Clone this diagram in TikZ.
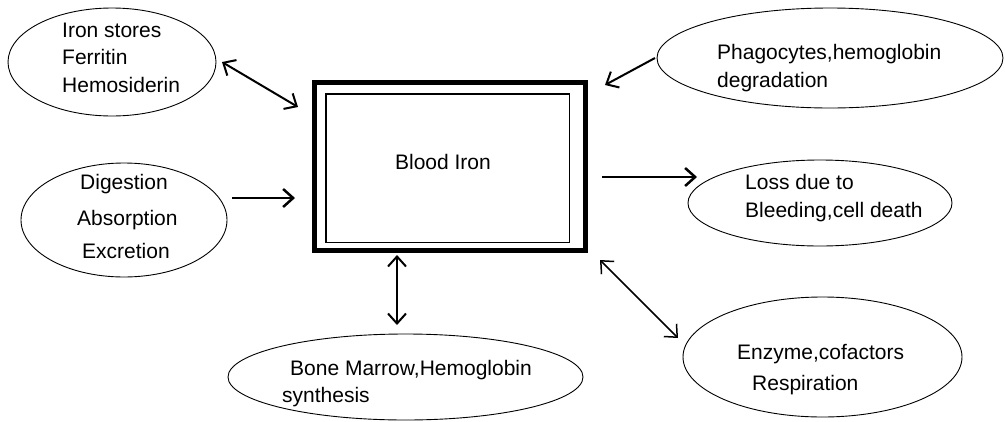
\documentclass[tikz,border=0pt]{standalone}
\usepackage{fontspec}
\setmainfont{Liberation Sans}
\usetikzlibrary{arrows.meta,shapes.geometric}
\begin{document}
\begin{tikzpicture}[x=1pt,y=-1pt,
  ell/.style={draw, ellipse, line width=0.9pt, inner sep=0pt},
  txt/.style={font=\fontsize{21}{25}\selectfont, inner sep=0pt, text height=15pt, text depth=0pt, anchor=west},
  barb/.style={Straight Barb[length=10pt,width=18pt]},
  conn/.style={line width=#1, -{Straight Barb[length=10pt,width=18pt]}},
  dconn/.style={line width=#1, {Straight Barb[length=10pt,width=18pt]}-{Straight Barb[length=10pt,width=18pt]}}
]
\useasboundingbox (0,0) rectangle (1005,421);
% central box
\node[draw, line width=5pt, minimum width=271pt, minimum height=168pt, inner sep=0pt] (outer) at (450,166.5) {};
\node[draw, line width=1.5pt, minimum width=243.5pt, minimum height=148.5pt, inner sep=0pt] (inner) at (447.5,168) {};
\node[txt, anchor=center] (blood) at (443,162) {Blood Iron};

% ellipses
\node[ell, minimum width=208pt, minimum height=108pt] (iron) at (112,62) {};
\node[ell, minimum width=206pt, minimum height=114pt] (dig) at (124,220) {};
\node[ell, minimum width=346pt, minimum height=100pt] (phago) at (830,58) {};
\node[ell, minimum width=264pt, minimum height=86pt] (loss) at (820,203) {};
\node[ell, minimum width=279pt, minimum height=120pt] (enz) at (822.5,357) {};
\node[ell, minimum width=355pt, minimum height=86pt] (bone) at (405.5,377) {};

% texts
\node[txt] (t1a) at (62,30) {Iron stores};
\node[txt] (t1b) at (62,57) {Ferritin};
\node[txt] (t1c) at (62,85) {Hemosiderin};
\node[txt] (t2a) at (80,182) {Digestion};
\node[txt] (t2b) at (77,218) {Absorption};
\node[txt] (t2c) at (82,251) {Excretion};
\node[txt] (t3a) at (717,52) {Phagocytes,hemoglobin};
\node[txt] (t3b) at (717,80) {degradation};
\node[txt] (t4a) at (745,182) {Loss due to};
\node[txt] (t4b) at (745,210) {Bleeding,cell death};
\node[txt] (t5a) at (737,352) {Enzyme,cofactors};
\node[txt] (t5b) at (752,383) {Respiration};
\node[txt] (t6a) at (290,368) {Bone Marrow,Hemoglobin};
\node[txt] (t6b) at (282,395) {synthesis};

% connector end points
\coordinate (a1s) at (222,62);  \coordinate (a1e) at (298,107);
\coordinate (a2s) at (232,198); \coordinate (a2e) at (295,198);
\coordinate (a3s) at (397,255); \coordinate (a3e) at (397,325);
\coordinate (a4s) at (655,58);  \coordinate (a4e) at (605,85);
\coordinate (a5s) at (602,177); \coordinate (a5e) at (697,177);
\coordinate (a6s) at (600,260); \coordinate (a6e) at (678,338);

\draw[dconn=2pt] (a1s) -- (a1e);
\draw[conn=2.5pt] (a2s) -- (a2e);
\draw[dconn=2pt] (a3s) -- (a3e);
\draw[conn=2pt] (a4s) -- (a4e);
\draw[conn=2.5pt] (a5s) -- (a5e);
\draw[dconn=1.5pt] (a6s) -- (a6e);
\end{tikzpicture}
\end{document}
